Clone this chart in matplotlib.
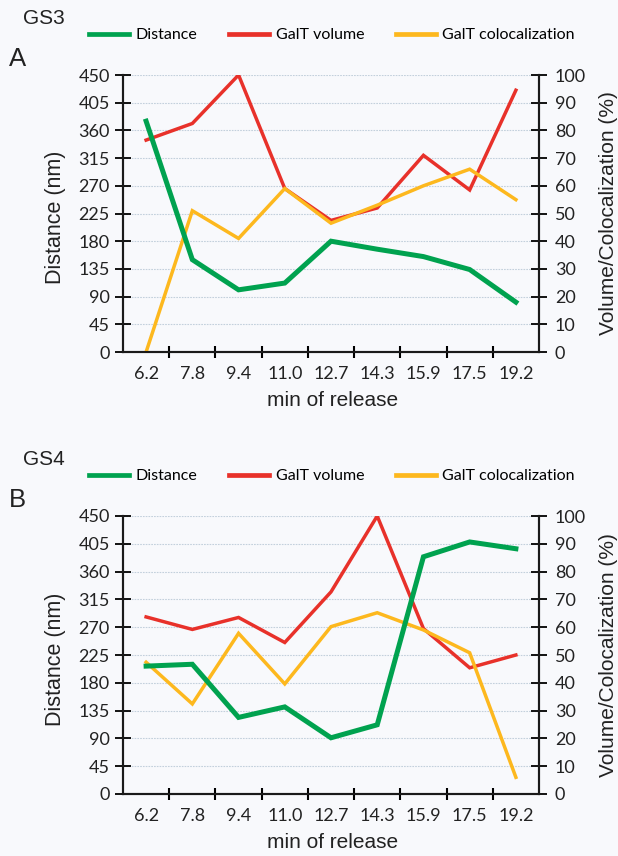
import numpy as np
from matplotlib import pyplot as plt
from matplotlib.lines import Line2D

# minutes of release (categories on the x axis)
minutes = ["6.2", "7.8", "9.4", "11.0", "12.7", "14.3", "15.9", "17.5", "19.2"]

# GS3 (panel A)
gs3_distance = [375, 150, 101, 112, 180, 167, 155, 134, 81]      # nm
gs3_volume = [76.5, 82.5, 100, 59, 47.5, 52, 71, 58.5, 94.5]      # %
gs3_coloc = [0, 51, 41, 59, 46.5, 53, 60, 66, 55]                 # %

# GS4 (panel B)
gs4_distance = [207, 210, 124, 141, 91, 112, 384, 408, 397]       # nm
gs4_volume = [63.7, 59.2, 63.5, 54.5, 72.7, 100, 59.5, 45.4, 50]  # %
gs4_coloc = [47.4, 32.4, 57.8, 39.6, 60.2, 65.2, 59, 50.8, 6]     # %

GREEN = "#00a24f"
RED = "#e8312a"
YELLOW = "#fdb81e"
BG = "#f8f9fc"

W, H = 618, 856
fig = plt.figure(figsize=(W / 100, H / 100), dpi=100, facecolor=BG)

TICKFONT = "Lato"
LABELFONT = "Liberation Sans"


def px(x, y):
    return x / W, 1 - y / H


def panel(top, bottom, distance, volume, coloc, name, letter):
    left, right = 123, 539
    rect = [left / W, 1 - bottom / H, (right - left) / W, (bottom - top) / H]
    ax = fig.add_axes(rect)
    ax2 = ax.twinx()
    ax.set_zorder(ax2.get_zorder() + 1)
    ax.patch.set_visible(False)
    ax2.set_facecolor(BG)

    x = np.arange(len(minutes))
    ax2.plot(x, volume, color=RED, lw=2.5, solid_joinstyle="miter", zorder=3)
    ax2.plot(x, coloc, color=YELLOW, lw=2.5, solid_joinstyle="miter", zorder=4)
    ax.plot(x, distance, color=GREEN, lw=3.6, solid_joinstyle="miter", zorder=5)

    ax.set_xlim(-0.5, len(minutes) - 0.5)
    ax.set_ylim(0, 450)
    ax2.set_ylim(0, 100)
    ax.set_yticks(np.arange(0, 451, 45))
    ax2.set_yticks(np.arange(0, 101, 10))

    ax.set_xticks(np.arange(len(minutes) - 1) + 0.5)
    ax.set_xticklabels([])
    ax.set_xticks(x, minor=True)
    ax.set_xticklabels(minutes, minor=True, fontsize=13, family=TICKFONT, color="#222222")
    ax.tick_params(axis="x", which="major", direction="inout", length=9, width=1.5)
    ax.tick_params(axis="x", which="minor", length=0, pad=10)
    ax.tick_params(axis="y", direction="inout", length=11, width=1.3, pad=4,
                   labelsize=13, labelcolor="#222222")
    ax2.tick_params(axis="y", direction="inout", length=11, width=1.3, pad=6,
                    labelsize=13, labelcolor="#222222")
    for lab in ax.get_yticklabels() + ax2.get_yticklabels():
        lab.set_family(TICKFONT)

    ax2.yaxis.grid(True, color="#c3d0dc", lw=0.8, ls=(0, (1.5, 1)))
    ax2.set_axisbelow(True)

    for a in (ax, ax2):
        a.spines["top"].set_visible(False)
        for s in ("left", "right", "bottom"):
            a.spines[s].set_linewidth(1.5)
            a.spines[s].set_color("#1a1a1a")

    # axis titles
    fig.text(*px(56, (top + bottom) / 2 + 4), "Distance (nm)", rotation=90, ha="center",
             va="center", fontsize=15.5, family=LABELFONT, color="#222222")
    fig.text(*px(608, (top + bottom) / 2), "Volume/Colocalization (%)", rotation=90,
             ha="center", va="center", fontsize=15, family=LABELFONT, color="#222222")
    fig.text(*px(333, bottom + 49), "min of release", ha="center", va="center",
             fontsize=15, family=LABELFONT, color="#222222")

    # panel names
    fig.text(*px(23, top - 57), name, ha="left", va="center", fontsize=15,
             family=LABELFONT, color="#222222")
    fig.text(*px(9, top - 16), letter, ha="left", va="center", fontsize=18.5,
             family=LABELFONT, color="#222222")

    handles = [Line2D([], [], color=GREEN, lw=3.4),
               Line2D([], [], color=RED, lw=3.4),
               Line2D([], [], color=YELLOW, lw=3.4)]
    fig.legend(handles, ["Distance", "GalT volume", "GalT colocalization"],
               loc="center", bbox_to_anchor=px(332, top - 40), ncol=3, frameon=False,
               prop={"family": TICKFONT, "size": 11.5}, handlelength=2.5,
               handletextpad=0.4, columnspacing=2.0, borderpad=0)


panel(75, 352, gs3_distance, gs3_volume, gs3_coloc, "GS3", "A")
panel(516, 794, gs4_distance, gs4_volume, gs4_coloc, "GS4", "B")

plt.savefig("out.png", dpi=100, facecolor=BG)
